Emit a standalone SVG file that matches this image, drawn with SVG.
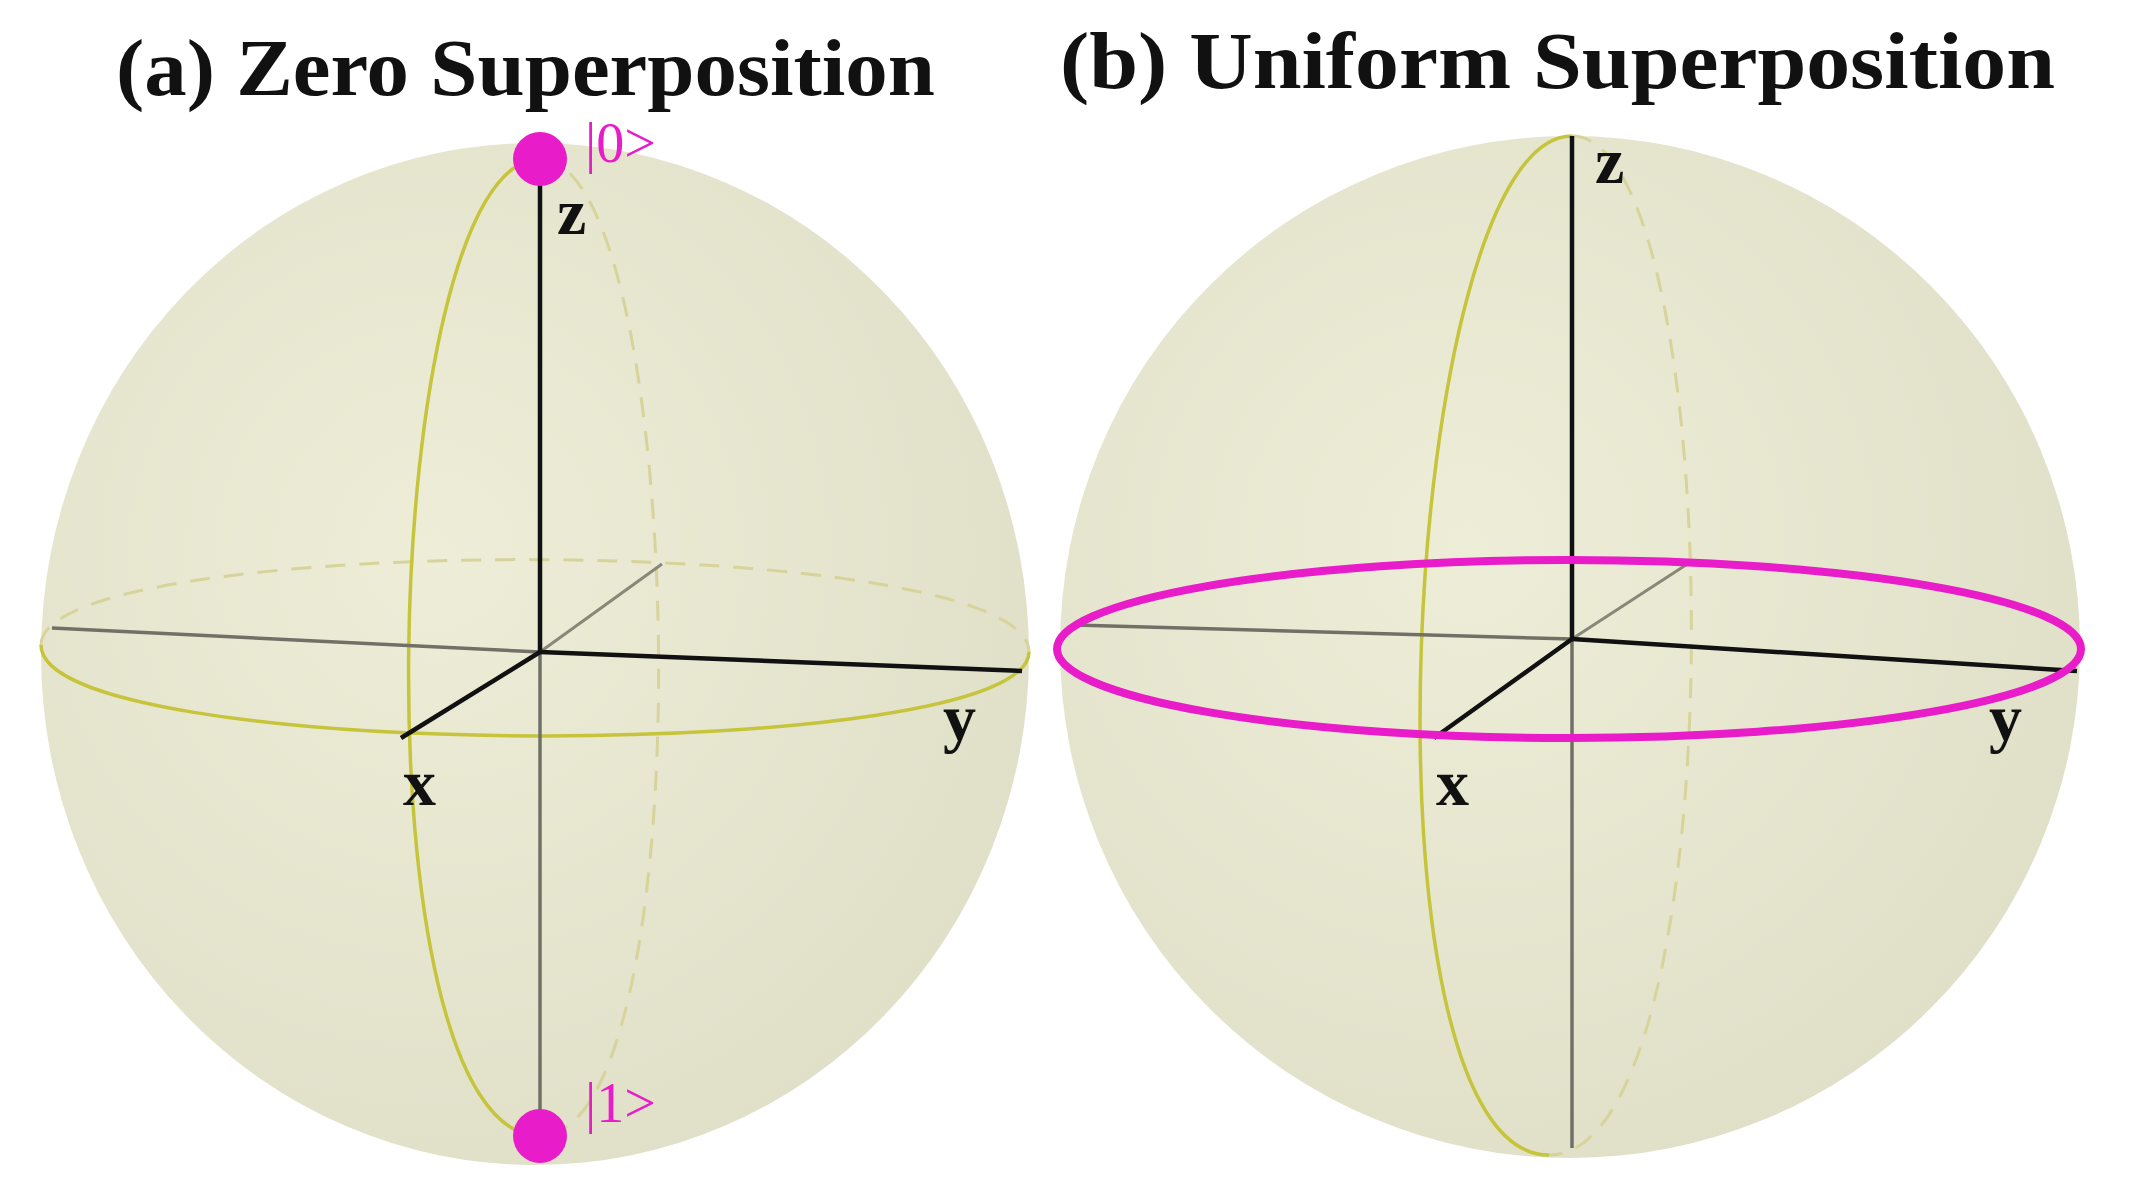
<svg xmlns="http://www.w3.org/2000/svg" width="2131" height="1193" viewBox="0 0 2131 1193">
<defs>
<radialGradient id="sph" cx="0.4" cy="0.4" r="0.65">
<stop offset="0" stop-color="#EEEED8"/>
<stop offset="1" stop-color="#E0DFC8"/>
</radialGradient>
</defs>
<style>
.title{font-family:"Liberation Serif",serif;font-weight:bold;font-size:80px;fill:#111}
.lab{font-family:"Liberation Serif",serif;font-weight:bold;font-size:66px;fill:#111}
.ket{font-family:"Liberation Serif",serif;font-size:56px;fill:#E81CC8}
.solid{fill:none;stroke:#C6C43A;stroke-width:3.5}
.dash{fill:none;stroke:#D6D49A;stroke-width:3;stroke-dasharray:20 14}
.ax{stroke:#111;stroke-width:4.5}
.axg{stroke:#707066;stroke-width:3.5}
.axb{stroke:#888878;stroke-width:3}
</style>
<rect width="2131" height="1193" fill="#fff"/>
<g id="panel-a">
<text class="title" x="116" y="95" textLength="819" lengthAdjust="spacingAndGlyphs">(a) Zero Superposition</text>
<ellipse cx="535" cy="654" rx="494" ry="511" fill="url(#sph)"/>
<path class="dash" d="M41,645 C41,530 1029,530 1029,652"/>
<path class="solid" d="M41,645 C41,765 1029,765 1029,652"/>
<path class="dash" d="M540,159 C688,159 708,1136 540,1136"/>
<path class="solid" d="M540,159 C378,159 352,1136 540,1136"/>
<line class="axb" x1="540" y1="652" x2="662" y2="564"/>
<line class="axg" x1="540" y1="652" x2="540" y2="1136"/>
<line class="axg" x1="52" y1="628" x2="540" y2="652"/>
<line class="ax" x1="540" y1="159" x2="540" y2="652"/>
<line class="ax" x1="540" y1="652" x2="1022" y2="671"/>
<line class="ax" x1="540" y1="652" x2="401" y2="738"/>
<circle cx="540" cy="159" r="27" fill="#E81CC8"/>
<circle cx="540" cy="1136" r="27" fill="#E81CC8"/>
<text class="ket" x="585" y="162">|0&gt;</text>
<text class="ket" x="585" y="1122">|1&gt;</text>
<text class="lab" x="557" y="234">z</text>
<text class="lab" x="403" y="805">x</text>
<text class="lab" x="943" y="740">y</text>
</g>
<g id="panel-b">
<text class="title" x="1060" y="88" textLength="995" lengthAdjust="spacingAndGlyphs">(b) Uniform Superposition</text>
<ellipse cx="1570" cy="647" rx="510" ry="511" fill="url(#sph)"/>
<path class="dash" d="M1572,136 C1730,136 1740,1155 1549,1155"/>
<path class="solid" d="M1572,136 C1400,136 1350,1155 1549,1155"/>
<line class="axb" x1="1572" y1="639" x2="1692" y2="561"/>
<line class="axg" x1="1572" y1="639" x2="1572" y2="1148"/>
<line class="axg" x1="1074" y1="625" x2="1572" y2="639"/>
<line class="ax" x1="1572" y1="136" x2="1572" y2="639"/>
<line class="ax" x1="1572" y1="639" x2="2077" y2="671"/>
<line class="ax" x1="1572" y1="639" x2="1434" y2="738"/>
<ellipse cx="1569" cy="649" rx="512" ry="89" fill="none" stroke="#E81CC8" stroke-width="8"/>
<text class="lab" x="1595" y="183">z</text>
<text class="lab" x="1436" y="805">x</text>
<text class="lab" x="1989" y="740">y</text>
</g>
</svg>
